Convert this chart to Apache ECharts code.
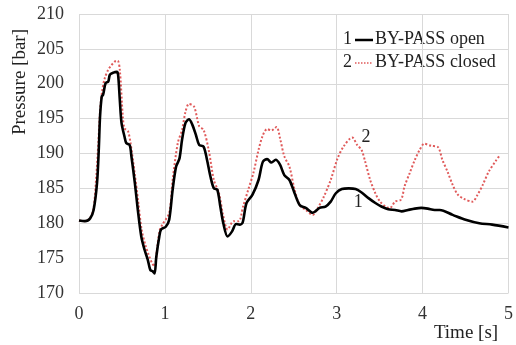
<!DOCTYPE html>
<html>
<head>
<meta charset="utf-8">
<script src="https://cdn.jsdelivr.net/npm/echarts@6/dist/echarts.min.js"></script>
<style>html,body{margin:0;padding:0;background:#fff}#c{width:516px;height:345px}</style>
</head>
<body>
<div id="c"></div>
<script>
var xTicks = [0, 1, 2, 3, 4, 5];
var yTicks = [170, 175, 180, 185, 190, 195, 200, 205, 210];

var timeOpen = [0, 0.07, 0.13, 0.17, 0.21, 0.23, 0.245, 0.265, 0.28, 0.31, 0.34, 0.36, 0.40, 0.44, 0.455, 0.475, 0.495, 0.53, 0.55, 0.59, 0.61, 0.65, 0.685, 0.725, 0.763, 0.80, 0.83, 0.86, 0.88, 0.90, 0.935, 0.955, 1.01, 1.05, 1.09, 1.13, 1.17, 1.20, 1.24, 1.28, 1.32, 1.36, 1.40, 1.45, 1.49, 1.53, 1.57, 1.61, 1.645, 1.68, 1.73, 1.78, 1.83, 1.87, 1.905, 1.95, 2.02, 2.09, 2.14, 2.19, 2.24, 2.29, 2.34, 2.39, 2.45, 2.51, 2.57, 2.64, 2.72, 2.80, 2.87, 2.93, 2.99, 3.06, 3.14, 3.22, 3.29, 3.37, 3.45, 3.52, 3.60, 3.68, 3.755, 3.83, 3.91, 3.985, 4.06, 4.14, 4.20, 4.35, 4.50, 4.66, 4.81, 5.0];
var pressureOpen = [180.4, 180.3, 180.7, 181.9, 185.8, 190.5, 195.3, 198.2, 198.4, 200.1, 200.3, 201.3, 201.6, 201.7, 201.3, 197.7, 194.4, 192.4, 191.5, 191.2, 189.6, 185.8, 181.9, 178.1, 176.2, 174.8, 173.3, 173.1, 172.8, 175.2, 178.1, 179.1, 179.5, 180.5, 184.8, 188.1, 189.3, 192.0, 194.4, 194.9, 194.1, 192.7, 191.2, 191.0, 189.1, 186.7, 185.0, 184.8, 182.4, 180.0, 178.1, 178.8, 179.9, 179.8, 180.1, 182.9, 184.1, 186.2, 188.8, 189.2, 188.7, 189.1, 188.4, 186.9, 186.2, 184.3, 182.6, 182.2, 181.5, 182.2, 182.4, 183.1, 184.3, 184.9, 185.0, 184.9, 184.4, 183.6, 182.9, 182.4, 182.0, 181.9, 181.7, 181.9, 182.1, 182.2, 182.1, 181.9, 181.9, 181.2, 180.5, 180.0, 179.8, 179.4];

var timeClosed = [0, 0.07, 0.13, 0.17, 0.20, 0.225, 0.245, 0.27, 0.30, 0.34, 0.38, 0.42, 0.45, 0.475, 0.51, 0.53, 0.57, 0.60, 0.65, 0.69, 0.73, 0.77, 0.81, 0.85, 0.88, 0.91, 0.94, 0.97, 1.05, 1.09, 1.15, 1.20, 1.24, 1.28, 1.34, 1.40, 1.45, 1.51, 1.57, 1.63, 1.68, 1.73, 1.80, 1.86, 1.91, 1.97, 2.03, 2.09, 2.14, 2.19, 2.24, 2.30, 2.34, 2.39, 2.45, 2.51, 2.57, 2.64, 2.72, 2.78, 2.85, 2.93, 3.01, 3.08, 3.18, 3.24, 3.29, 3.33, 3.39, 3.45, 3.505, 3.58, 3.62, 3.68, 3.75, 3.79, 3.85, 3.91, 3.965, 4.02, 4.10, 4.18, 4.23, 4.29, 4.35, 4.41, 4.48, 4.58, 4.64, 4.70, 4.77, 4.85, 4.89];
var pressureClosed = [180.4, 180.3, 180.8, 182.2, 186.5, 191.5, 196.0, 199.0, 200.8, 202.0, 202.7, 203.2, 203.3, 202.0, 195.3, 193.6, 193.2, 191.5, 187.0, 183.0, 179.0, 177.0, 175.5, 174.3, 173.8, 176.5, 179.0, 179.8, 181.5, 186.2, 191.5, 193.4, 196.0, 197.1, 196.7, 193.9, 193.4, 190.5, 186.2, 184.3, 181.0, 179.1, 180.3, 180.3, 182.4, 184.8, 187.2, 190.5, 192.6, 193.5, 193.3, 193.8, 192.2, 189.6, 188.1, 184.8, 182.6, 181.9, 181.2, 182.2, 183.8, 186.2, 189.3, 191.0, 192.3, 191.2, 190.5, 188.9, 186.2, 184.3, 183.1, 182.3, 182.2, 183.1, 183.4, 185.3, 187.2, 189.1, 190.5, 191.4, 191.1, 190.9, 189.1, 187.4, 185.5, 184.1, 183.5, 183.1, 184.1, 185.5, 187.4, 188.9, 189.6];

var seriesNames = ['BY-PASS open', 'BY-PASS closed'];
var seriesNumbers = ['1', '2'];
var annotations = [[3.25, 183.0, '1'], [3.34, 192.3, '2']];

function pairs(xs, ys) { return xs.map(function (x, i) { return [x, ys[i]]; }); }

var font = 'Liberation Serif';
var fs = 18;
var fontStr = fs + 'px "Liberation Serif"';
var txt = '#222';
var red = '#e05a5a';
var chart = echarts.init(document.getElementById('c'), null, { renderer: 'canvas' });
chart.setOption({
  animation: false,
  backgroundColor: '#ffffff',
  grid: { left: 79, right: 3, top: 14, bottom: 52, containLabel: false },
  xAxis: {
    type: 'value', min: xTicks[0], max: xTicks[xTicks.length - 1], interval: 1,
    axisLine: { show: false }, axisTick: { show: false },
    axisLabel: { margin: 12, color: '#333', fontFamily: font, fontSize: fs },
    splitLine: { show: true, lineStyle: { color: '#d9d9d9', width: 1 } }
  },
  yAxis: {
    type: 'value', min: yTicks[0], max: yTicks[yTicks.length - 1], interval: 5,
    axisLine: { show: false }, axisTick: { show: false },
    axisLabel: { margin: 15, color: '#333', fontFamily: font, fontSize: fs },
    splitLine: { show: true, lineStyle: { color: '#d9d9d9', width: 1 } }
  },
  graphic: [
    { type: 'text', x: 343, y: 39, style: { text: seriesNumbers[0], font: fontStr, fill: txt, verticalAlign: 'middle' } },
    { type: 'line', shape: { x1: 355, y1: 40, x2: 373, y2: 40 }, style: { stroke: '#000', lineWidth: 2.5 } },
    { type: 'text', x: 375, y: 39, style: { text: seriesNames[0], font: fontStr, fill: txt, verticalAlign: 'middle' } },
    { type: 'text', x: 343, y: 62, style: { text: seriesNumbers[1], font: fontStr, fill: txt, verticalAlign: 'middle' } },
    { type: 'line', shape: { x1: 355, y1: 63, x2: 373, y2: 63 }, style: { stroke: red, lineWidth: 1.5, lineDash: [1.5, 1.5] } },
    { type: 'text', x: 375, y: 62, style: { text: seriesNames[1], font: fontStr, fill: txt, verticalAlign: 'middle' } },
    { type: 'text', x: 20, y: 82, rotation: Math.PI / 2, style: { text: 'Pressure [bar]', font: '19px "Liberation Serif"', fill: txt, align: 'center', verticalAlign: 'middle' } },
    { type: 'text', x: 466, y: 333, style: { text: 'Time [s]', font: '19px "Liberation Serif"', fill: txt, align: 'center', verticalAlign: 'middle' } }
  ],
  series: [
    {
      name: seriesNames[1], type: 'line', data: pairs(timeClosed, pressureClosed),
      showSymbol: false, symbol: 'none', smooth: 0.3, z: 2,
      lineStyle: { color: red, width: 2, type: [2, 2] }, itemStyle: { color: red }
    },
    {
      name: seriesNames[0], type: 'line', data: pairs(timeOpen, pressureOpen),
      showSymbol: false, symbol: 'none', smooth: 0.3, z: 3,
      lineStyle: { color: '#000000', width: 2.6 }, itemStyle: { color: '#000000' },
      markPoint: {
        symbol: 'circle', symbolSize: 0,
        label: { show: true, position: 'inside', fontFamily: font, fontSize: fs, color: txt, formatter: function (p) { return p.name; } },
        data: annotations.map(function (a) { return { name: a[2], coord: [a[0], a[1]] }; })
      }
    }
  ]
});
</script>
</body>
</html>
